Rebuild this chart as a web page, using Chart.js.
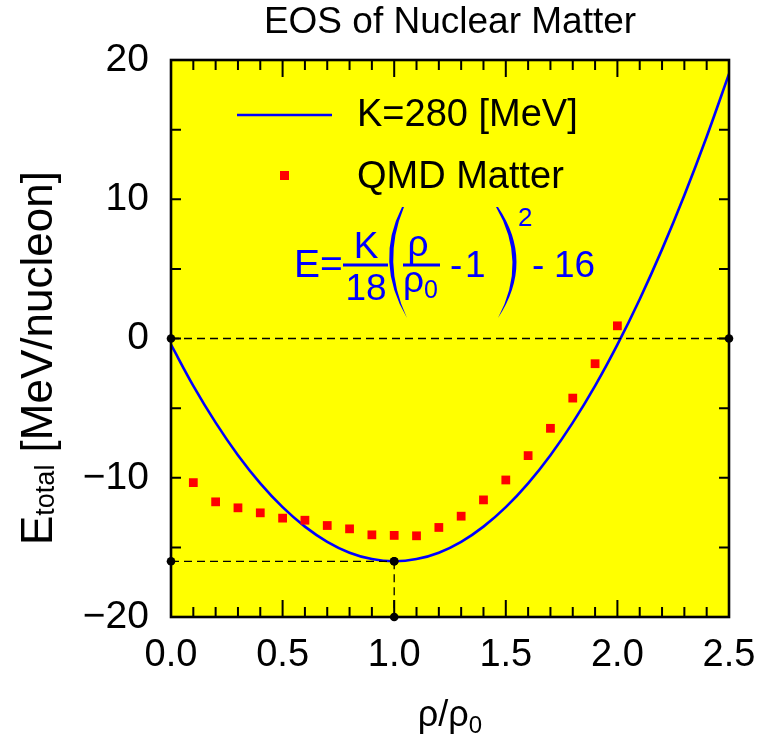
<!DOCTYPE html>
<html>
<head>
<meta charset="utf-8">
<title>EOS of Nuclear Matter</title>
<script src="https://cdn.jsdelivr.net/npm/chart.js@4/dist/chart.umd.min.js"></script>
<style>
  html, body { margin: 0; padding: 0; background: #fff; }
</style>
</head>
<body>
<canvas id="eosChart" width="760" height="750"></canvas>
<script>
// density in units of rho0, energy per nucleon in MeV
var rho = [0.0, 0.1, 0.2, 0.3, 0.4, 0.5, 0.6, 0.7, 0.8, 0.9, 1.0, 1.1, 1.2,
           1.3, 1.4, 1.5, 1.6, 1.7, 1.8, 1.9, 2.0, 2.1, 2.2, 2.3, 2.4, 2.5];
var eosK280 = [-0.44, -3.40, -6.04, -8.38, -10.40, -12.11, -13.51, -14.60, -15.38, -15.84,
               -16.00, -15.84, -15.38, -14.60, -13.51, -12.11, -10.40, -8.38, -6.04, -3.40,
               -0.44, 2.82, 6.40, 10.29, 14.49, 19.00];

var qmdRho = [0.1, 0.2, 0.3, 0.4, 0.5, 0.6, 0.7, 0.8, 0.9, 1.0,
              1.1, 1.2, 1.3, 1.4, 1.5, 1.6, 1.7, 1.8, 1.9, 2.0];
var qmdEnergy = [-10.35, -11.73, -12.16, -12.52, -12.90, -13.05, -13.43, -13.67, -14.10, -14.14,
                 -14.17, -13.57, -12.76, -11.59, -10.16, -8.41, -6.45, -4.28, -1.81, 0.91];

// dashed guide lines: zero energy, saturation energy, saturation density
var zeroLine = [[0, 0], [2.5, 0]];
var satEnergyLine = [[0, -16], [1.0, -16]];
var satDensityLine = [[1.0, -16], [1.0, -20]];

var xTickValues = [0.0, 0.5, 1.0, 1.5, 2.0, 2.5];
var yTickValues = [-20, -10, 0, 10, 20];

var FONT = '"Liberation Sans", Arial, Helvetica, sans-serif';

function pts(xs, ys) {
  return xs.map(function(x, i) { return { x: x, y: ys[i] }; });
}
function pairPts(p) {
  return p.map(function(q) { return { x: q[0], y: q[1] }; });
}
function guide(p) {
  return {
    data: pairPts(p),
    showLine: true,
    borderColor: '#000',
    borderWidth: 1.3,
    borderDash: [8, 5],
    pointRadius: 4.3,
    pointBackgroundColor: '#000',
    pointBorderWidth: 0,
    clip: false,
    order: 0
  };
}

var eosDecor = {
  id: 'eosDecor',
  beforeDatasetsDraw: function(chart) {
    var a = chart.chartArea, ctx = chart.ctx;
    ctx.save();
    ctx.fillStyle = '#ffff00';
    ctx.fillRect(a.left, a.top, a.right - a.left, a.bottom - a.top);
    ctx.restore();
  },
  afterDatasetsDraw: function(chart) {
    var a = chart.chartArea, ctx = chart.ctx;
    var xs = chart.scales.x, ys = chart.scales.y;
    ctx.save();
    ctx.strokeStyle = '#000';
    ctx.lineWidth = 2;
    ctx.beginPath();
    // inward ticks: every 0.1 on x (longer at 0.5), every 5 on y
    for (var i = 0; i <= 25; i++) {
      var px = xs.getPixelForValue(i / 10);
      var len = (i % 5 === 0) ? 17 : 10;
      ctx.moveTo(px, a.bottom); ctx.lineTo(px, a.bottom - len);
      ctx.moveTo(px, a.top); ctx.lineTo(px, a.top + len);
    }
    for (var v = -20; v <= 20; v += 5) {
      var py = ys.getPixelForValue(v);
      ctx.moveTo(a.left, py); ctx.lineTo(a.left + 10, py);
      ctx.moveTo(a.right, py); ctx.lineTo(a.right - 10, py);
    }
    ctx.stroke();
    ctx.lineWidth = 2.6;
    ctx.strokeRect(a.left, a.top, a.right - a.left, a.bottom - a.top);
    ctx.restore();
  },
  afterDraw: function(chart) {
    var a = chart.chartArea, ctx = chart.ctx;
    var cx = (a.left + a.right) / 2;
    var fit = chart.data.datasets[0], qmd = chart.data.datasets[1];
    ctx.save();
    ctx.fillStyle = '#000';
    ctx.textBaseline = 'alphabetic';

    // title
    ctx.font = '37px ' + FONT;
    ctx.textAlign = 'center';
    ctx.fillText('EOS of Nuclear Matter', cx, 33);

    // x axis title  rho/rho_0
    ctx.textAlign = 'left';
    ctx.font = '36px ' + FONT;
    var main = '\u03C1/\u03C1';
    var wMain = ctx.measureText(main).width;
    ctx.font = '24px ' + FONT;
    var wSub = ctx.measureText('0').width;
    var x0 = cx - (wMain + wSub) / 2;
    ctx.font = '36px ' + FONT;
    ctx.fillText(main, x0, 726);
    ctx.font = '24px ' + FONT;
    ctx.fillText('0', x0 + wMain, 733);

    // y axis title  E_total [MeV/nucleon]
    ctx.save();
    ctx.translate(52, 545);
    ctx.rotate(-Math.PI / 2);
    ctx.font = '44px ' + FONT;
    ctx.fillText('E', 0, 0);
    var wx = ctx.measureText('E').width;
    ctx.font = '27px ' + FONT;
    ctx.fillText('total', wx, 2);
    wx += ctx.measureText('total').width;
    ctx.font = '44px ' + FONT;
    ctx.fillText(' [MeV/nucleon]', wx, 0);
    ctx.restore();

    // legend
    ctx.strokeStyle = fit.borderColor;
    ctx.lineWidth = fit.borderWidth;
    ctx.beginPath();
    ctx.moveTo(237, 115); ctx.lineTo(332, 115);
    ctx.stroke();
    ctx.fillStyle = qmd.pointBackgroundColor;
    ctx.fillRect(280, 171, 9, 9);
    ctx.fillStyle = '#000';
    ctx.font = '38px ' + FONT;
    ctx.fillText('K=280 [MeV]', 357, 126);
    ctx.fillText('QMD Matter', 357, 188);

    // formula
    ctx.fillStyle = '#0000ff';
    ctx.strokeStyle = '#0000ff';
    ctx.font = '39px ' + FONT;
    ctx.fillText('E=', 294, 277);
    ctx.textAlign = 'center';
    ctx.font = '37px ' + FONT;
    ctx.fillText('K', 366, 258);
    ctx.fillText('18', 366, 300);
    ctx.fillText('\u03C1', 418, 256);
    ctx.textAlign = 'left';
    ctx.fillText('\u03C1', 403, 292);
    ctx.font = '25px ' + FONT;
    ctx.fillText('0', 424, 298);
    ctx.font = '37px ' + FONT;
    ctx.fillText('-', 450, 277);
    ctx.fillText('1', 465, 277);
    ctx.fillText('-', 532, 277);
    ctx.fillText('16', 554, 277);
    ctx.font = '26px ' + FONT;
    ctx.fillText('2', 518, 226);
    ctx.lineWidth = 3;
    ctx.beginPath();
    ctx.moveTo(343, 265); ctx.lineTo(388, 265);
    ctx.moveTo(403, 265); ctx.lineTo(440, 265);
    ctx.stroke();
    // tall brackets
    ctx.beginPath();
    ctx.moveTo(402, 207);
    ctx.quadraticCurveTo(374, 262, 407, 318);
    ctx.quadraticCurveTo(381, 262, 404, 207);
    ctx.closePath();
    ctx.fill();
    ctx.beginPath();
    ctx.moveTo(498, 207);
    ctx.quadraticCurveTo(535, 262, 498, 318);
    ctx.quadraticCurveTo(528, 262, 496, 207);
    ctx.closePath();
    ctx.fill();
    ctx.restore();
  }
};

new Chart(document.getElementById('eosChart'), {
  type: 'scatter',
  data: {
    datasets: [{
      label: 'K=280 [MeV]',
      data: pts(rho, eosK280),
      showLine: true,
      borderColor: '#0000ff',
      borderWidth: 2.6,
      cubicInterpolationMode: 'monotone',
      pointRadius: 0,
      order: 3
    }, {
      label: 'QMD Matter',
      data: pts(qmdRho, qmdEnergy),
      showLine: false,
      pointStyle: 'rect',
      pointRadius: 6.2,
      pointBackgroundColor: '#ff0000',
      pointBorderWidth: 0,
      order: 2
    },
    guide(zeroLine),
    guide(satEnergyLine),
    guide(satDensityLine)]
  },
  options: {
    responsive: false,
    animation: false,
    devicePixelRatio: 1,
    layout: { padding: { top: 60, right: 31, bottom: 0, left: 0 } },
    plugins: {
      legend: { display: false },
      title: { display: false },
      tooltip: { enabled: false }
    },
    scales: {
      x: {
        type: 'linear',
        min: 0,
        max: 2.5,
        afterFit: function(scale) {
          scale.height = 133;
          scale.paddingLeft = 0;
          scale.paddingRight = 0;
        },
        afterBuildTicks: function(scale) {
          scale.ticks = xTickValues.map(function(v) { return { value: v }; });
        },
        grid: { display: false, drawTicks: false },
        border: { display: false },
        ticks: {
          maxRotation: 0,
          autoSkip: false,
          padding: 16,
          color: '#000',
          font: { family: FONT, size: 38 },
          callback: function(v) { return Number(v).toFixed(1); }
        }
      },
      y: {
        type: 'linear',
        min: -20,
        max: 20,
        afterFit: function(scale) {
          scale.width = 171;
          scale.paddingTop = 0;
          scale.paddingBottom = 0;
        },
        afterBuildTicks: function(scale) {
          scale.ticks = yTickValues.map(function(v) { return { value: v }; });
        },
        grid: { display: false, drawTicks: false },
        border: { display: false },
        ticks: {
          autoSkip: false,
          padding: 22,
          color: '#000',
          font: { family: FONT, size: 39 },
          callback: function(v) { return v < 0 ? '\u2212' + Math.abs(v) : String(v); }
        }
      }
    }
  },
  plugins: [eosDecor]
});
</script>
</body>
</html>
